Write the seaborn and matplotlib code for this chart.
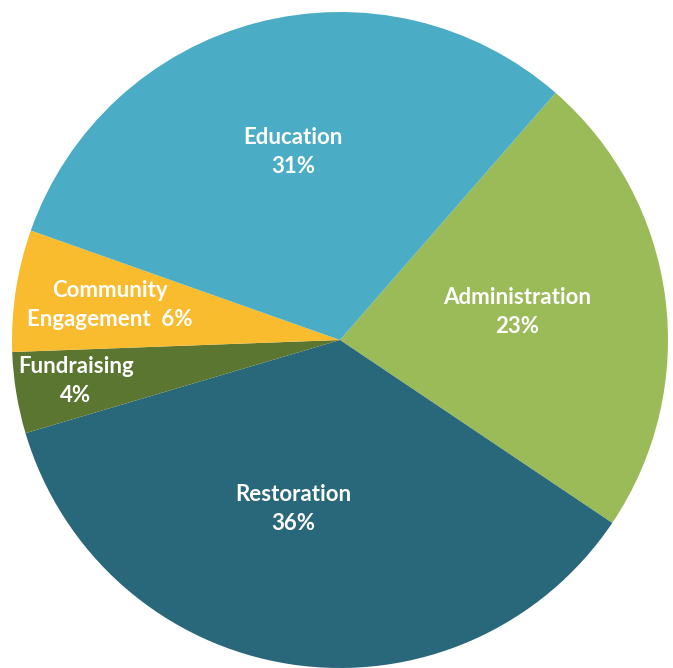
import matplotlib
matplotlib.use("Agg")
import matplotlib.pyplot as plt
import seaborn as sns

# data, in clockwise order starting at the Education/Administration border
categories = ['Administration', 'Restoration', 'Fundraising', 'Community\nEngagement', 'Education']
shares = [23, 36, 4, 6, 31]
label_texts = ['Administration\n23%', 'Restoration\n36%', 'Fundraising\n4%',
               'Community\nEngagement  6%', 'Education\n31%']

colors_list = ['#9BBB59', '#29687A', '#5A7630', '#F9BC2F', '#4BACC6']
# label spots, in pie radius units
label_pos = [(0.540, 0.085), (-0.143, -0.515), (-0.805, -0.125), (-0.701, 0.107), (-0.143, 0.573)]

sns.set_theme(style='white')
plt.rcParams['font.family'] = ['Lato', 'DejaVu Sans']

fig = plt.figure(figsize=(6.73, 6.68), dpi=100)
ax = fig.add_axes([0, 0, 1, 1])

ax.pie(shares, colors=colors_list, startangle=48.9, counterclock=False,
       radius=1.0, wedgeprops=dict(linewidth=0))

for (x, y), txt in zip(label_pos, label_texts):
    ax.text(x, y, txt, ha='center', va='center', color='white', fontsize=16,
            fontweight='bold', linespacing=1.46)

ax.set_xlim(-340 / 328, 333 / 328)
ax.set_ylim(-328 / 328, 340 / 328)
ax.set_aspect('auto')
ax.axis('off')

fig.savefig('out.png', dpi=100)
